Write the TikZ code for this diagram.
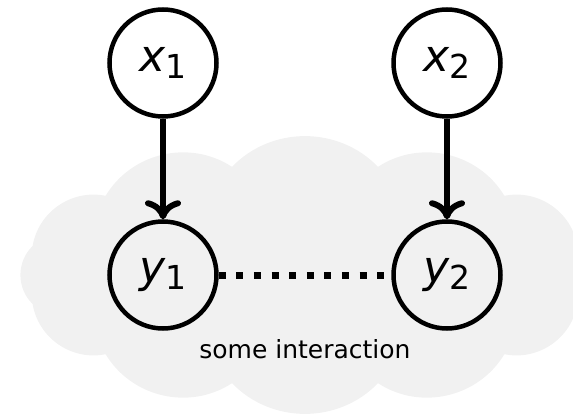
\documentclass[tikz,border=0pt]{standalone}
\usepackage{fontspec}
\setmainfont{DejaVu Sans}
\usetikzlibrary{arrows.meta}
\definecolor{cloudgray}{RGB}{241,241,241}
\begin{document}
\begin{tikzpicture}[x=1pt,y=-1pt,
  var/.style={circle, draw=black, line width=4.5pt, inner sep=0pt, minimum size=107pt,
    font=\fontsize{44}{44}\selectfont},
  causal/.style={line width=6pt, -{To[length=19pt,width=36pt]}},
  interact/.style={line width=7pt, dash pattern=on 7pt off 10.6pt},
  lbl/.style={font=\fontsize{25}{25}\selectfont, anchor=base, inner sep=0pt}]
\useasboundingbox (0,0) rectangle (573,417);
\clip (0,0) rectangle (573,417);
\begin{scope}[shift={(305,275)}]
  \fill[cloudgray] (15:282 and 112)
    \foreach \t in {45,75,...,375} { to[bend left=46] (\t:282 and 112) } -- cycle;
\end{scope}
\node[var] (x1) at (163,63) {\textit{x}\raisebox{-7pt}{\fontsize{33}{33}\selectfont 1}};
\node[var] (x2) at (447,63) {\textit{x}\raisebox{-7pt}{\fontsize{33}{33}\selectfont 2}};
\node[var] (y1) at (163,275) {\textit{y}\raisebox{-7pt}{\fontsize{33}{33}\selectfont 1}};
\node[var] (y2) at (447,275) {\textit{y}\raisebox{-7pt}{\fontsize{33}{33}\selectfont 2}};
\draw[causal] (x1) -- (y1);
\draw[causal] (x2) -- (y2);
\draw[interact] (y1) -- (y2);
\node[lbl] (txt) at (305,358) {some interaction};
\end{tikzpicture}
\end{document}
